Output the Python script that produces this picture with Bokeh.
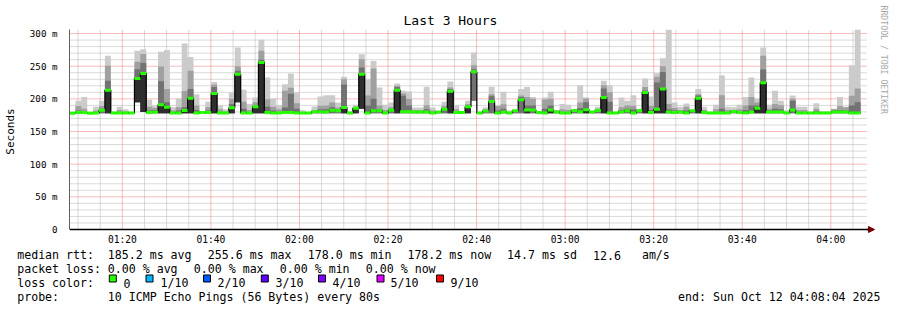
from datetime import datetime

from bokeh.plotting import figure
from bokeh.layouts import column
from bokeh.models import (Range1d, FixedTicker, DatetimeTickFormatter, Title, ColumnDataSource,
                          Arrow, NormalHead)
from bokeh.core.properties import value
from bokeh.embed import file_html
from bokeh.resources import INLINE

# ---------------- data ----------------
START = datetime(2025, 10, 12, 1, 8, 4)
END = datetime(2025, 10, 12, 4, 8, 4)
STEP_S = 80  # one sample every 80 s

# median rtt (ms) per sample
med = [178.1, 179, 179, 178.0, 178.5, 182.7, 213.3, 178.2, 178.5, 178.2,
       178.5, 231.2, 238.8, 179, 180, 190.9, 187.3, 178.2, 178.5, 182.2,
       201, 178.5, 179, 179, 208.2, 178.5, 178.5, 186.3, 237.8, 178.5,
       178.5, 187.8, 255.6, 179, 178.5, 178.5, 179, 179, 178.5, 178.5,
       178.2, 180.2, 180.2, 180, 182.7, 181.7, 186.8, 178.5, 185.8, 237.8,
       178.5, 181.7, 181.7, 178.2, 182.7, 213.3, 180.2, 180.2, 180, 180,
       180, 178.2, 180, 184.2, 211.8, 179, 179, 187.8, 241.4, 178.2,
       181.5, 196, 178.2, 180, 178.5, 181.7, 198.5, 183, 183, 179,
       178.2, 183, 180, 178.2, 178.2, 182, 180.2, 183.2, 180, 182,
       202, 178.5, 178.2, 180, 181.7, 178.2, 181.7, 209.8, 179, 184.2,
       215, 180, 179, 180, 178.2, 181.7, 201, 179, 178.2, 178.2,
       178.2, 178.5, 180.7, 179, 178.2, 180, 185.8, 224.5, 180, 180,
       180, 178.5, 183, 178.2, 178.2, 178.2, 178.2, 178.2, 178.2, 180,
       180, 180, 178.2, 178.2]

# lowest ping of each sample (ms)
ping_min = [178, 178, 178, 178, 178, 178, 178, 178, 178, 178,
            178, 195, 180, 178, 178, 178, 178, 178, 178, 178,
            178, 178, 178, 178, 178, 178, 178, 178, 195, 178,
            178, 178, 178, 178, 178, 178, 178, 178, 178, 178,
            178, 178, 178, 178, 178, 178, 178, 178, 178, 185,
            178, 178, 178, 178, 178, 178, 178, 178, 178, 178,
            178, 178, 178, 178, 178, 178, 178, 178, 197, 178,
            178, 178, 178, 178, 178, 178, 178, 178, 178, 178,
            178, 178, 178, 178, 178, 178, 178, 178, 178, 178,
            178, 178, 178, 178, 178, 178, 178, 178, 178, 178,
            178, 178, 178, 178, 178, 178, 178, 178, 178, 178,
            178, 178, 178, 178, 178, 178, 178, 178, 178, 178,
            178, 178, 178, 178, 178, 178, 178, 178, 178, 178,
            178, 178, 178, 178]

# highest ping of each sample (ms)
ping_max = [180, 197, 203, 179.5, 188, 197, 266, 180, 188, 184,
            180, 273.5, 276, 198.5, 189.4, 272, 275, 187, 200.6, 284.8,
            264, 207, 181, 195.5, 226, 190, 184, 209.8, 278.6, 213.8,
            192, 202, 290.4, 232.7, 200.6, 190.4, 222.5, 239, 209.8, 182.7,
            180, 188.3, 203.6, 205.7, 205.7, 194.5, 234, 181, 190.9, 268.4,
            230, 258, 217.4, 190.9, 194.5, 223.5, 212.3, 211.3, 186.8, 186.8,
            218.4, 186.8, 181, 195.5, 226.6, 190.4, 181, 197, 271, 179,
            187, 218.4, 190, 210.8, 182, 183, 215, 218, 203, 181,
            202, 211, 183, 192, 191, 183, 221, 202, 181, 188,
            227.6, 221, 180, 202, 197, 205.7, 185, 231, 203.6, 239.4,
            262, 306.2, 194.5, 188, 193, 183, 215, 188, 179, 191,
            236, 188, 187, 191, 203, 232.7, 200.6, 278.6, 191, 212.3,
            197, 182.7, 205, 188, 188, 180, 193.4, 181, 181, 185,
            203, 188, 251.6, 306.2]

# upper edge of the second smoke band (ms)
ping_p90 = [179, 189, 185, 179, 182, 189, 250.6, 179, 183, 181,
            179, 256.7, 268.5, 188, 186, 249.6, 215, 182, 187, 212,
            243, 190, 180, 187, 222, 184, 181, 200, 250, 195.5,
            183, 195, 273.5, 199.5, 188, 184, 212.3, 217, 193.4, 180,
            179, 183, 189.4, 190, 194.5, 186.8, 230, 180, 188, 260.8,
            205, 246.5, 190, 183, 187, 220, 208.2, 200, 183, 183,
            190.4, 182, 180.5, 189.4, 217.4, 184, 180, 192, 251.6, 178.8,
            184, 207, 189, 191.9, 180, 182.5, 205, 203, 200, 180,
            199, 200, 182, 184, 183, 182.5, 194.5, 200.6, 180.5, 185,
            221, 210, 179, 187, 190, 189.4, 183, 218, 189.4, 234,
            250, 192, 186, 183, 188, 182.5, 207, 183, 178.8, 184,
            205.7, 183, 183, 184, 190, 203, 194.5, 266, 185, 192,
            190.4, 180, 200, 183, 183, 179, 185, 180, 180, 184,
            189, 187, 204.7, 215.9]

# upper edge of the third smoke band (ms)
ping_p75 = [178.5, 182, 180, 178.5, 180, 185, 227.6, 178.5, 180, 179,
            179, 245.5, 255, 182, 183, 227, 195, 180, 182, 187,
            215, 183, 179.5, 182, 218, 180, 179.5, 192, 243, 185,
            180, 190, 260, 188, 182, 180, 186.8, 208, 185, 179,
            178.5, 181, 184, 184, 187, 183, 222, 179, 186, 248,
            190, 200, 184, 180, 184, 218, 204.7, 190, 181, 181,
            184, 180, 180, 186, 215, 181, 179.5, 189, 245.5, 178.5,
            182, 204, 182, 185, 179, 182, 203, 190, 190, 179.5,
            185, 190, 181, 180, 180, 182, 186, 195, 180, 183,
            216, 195.5, 178.5, 183, 185, 184, 182, 213, 183, 225,
            241, 184, 182, 181, 182, 182, 205, 181, 178.5, 180,
            185, 180, 181, 181, 183, 190, 190, 245, 182, 185,
            184, 179, 197, 180, 180, 178.5, 181, 179, 179, 182,
            183, 182, 190, 195]

# samples whose darkest smoke band reaches up to the median
dark_core = [0, 0, 0, 0, 0, 0, 1, 0, 0, 0,
             0, 1, 1, 0, 0, 1, 1, 0, 0, 1,
             1, 0, 0, 0, 1, 0, 0, 1, 1, 0,
             0, 1, 1, 0, 0, 0, 0, 0, 0, 0,
             0, 0, 0, 0, 0, 0, 1, 0, 1, 1,
             0, 0, 0, 0, 0, 1, 0, 0, 0, 0,
             0, 0, 0, 0, 1, 0, 0, 1, 0, 0,
             0, 0, 0, 0, 0, 0, 0, 1, 0, 0,
             0, 1, 0, 0, 0, 0, 0, 1, 0, 0,
             1, 0, 0, 0, 0, 0, 0, 1, 0, 1,
             1, 0, 0, 0, 0, 0, 1, 0, 0, 0,
             0, 0, 0, 0, 0, 0, 1, 1, 0, 0,
             0, 0, 0, 0, 0, 0, 0, 0, 0, 0,
             0, 0, 0, 0]

y_ticks = [0, 50, 100, 150, 200, 250, 300]
y_tick_labels = ["0", "50 m", "100 m", "150 m", "200 m", "250 m", "300 m"]
Y_MAX = 306.2

# legend rows: (text, x position in px)
row_stats = [("median rtt:", 16.7), ("185.2 ms avg", 107.3), ("255.6 ms max", 207.3),
             ("178.0 ms min", 307.3), ("178.2 ms now", 406.9), ("14.7 ms sd", 506.6),
             ("12.6", 592.5), ("am/s", 641.4)]
row_loss = [("packet loss:", 16.7), ("0.00 % avg", 107.3), ("0.00 % max", 193.3),
            ("0.00 % min", 279.3), ("0.00 % now", 365.3)]
loss_names = ["0", "1/10", "2/10", "3/10", "4/10", "5/10", "9/10"]
loss_colors = ["#26ff00", "#00b8ff", "#0059ff", "#5e00ff", "#7e00ff", "#dd00ff", "#ff0000"]
loss_box_x = [112.3, 149, 206.5, 264.3, 321.5, 380, 439.5]
loss_txt_x = [123, 160, 217, 275, 332, 390, 450]
row_probe = [("probe:", 16.7), ("10 ICMP Echo Pings (56 Bytes) every 80s", 107.3)]
end_text = "end: Sun Oct 12 04:08:04 2025"

# ---------------- geometry ----------------
EPOCH = datetime(1970, 1, 1)


def to_ms(dt):
    return (dt - EPOCH).total_seconds() * 1000.0


t0, t1 = to_ms(START), to_ms(END)
n = len(med)
left = [t0 + i * STEP_S * 1000.0 for i in range(n)]
right = [x + STEP_S * 1000.0 for x in left]
xs = left + [right[-1]]


def ext(a):
    return list(a) + [a[-1]]


core_top = [m if d else lo for m, d, lo in zip(med, dark_core, ping_min)]

W, H = 897, 310
FL, FT = 67, 29
PLOT_W, PLOT_H = 799, 200          # pixel size of the time/value area
XPX = (t1 - t0) / PLOT_W
YPX = Y_MAX / PLOT_H
EXT_R, EXT_B = 10, 4               # frame extension for the axis arrow
FW, FH = PLOT_W + EXT_R, PLOT_H + EXT_B
MAIN_H = 249
FONT = "DejaVu Sans Mono"

p = figure(width=W, height=MAIN_H,
           min_border_left=FL, min_border_right=W - FL - FW,
           min_border_top=FT, min_border_bottom=MAIN_H - FT - FH,
           x_range=Range1d(t0, t1 + EXT_R * XPX), y_range=Range1d(-EXT_B * YPX, Y_MAX),
           x_axis_type="datetime", output_backend="svg", toolbar_location=None,
           title="Last 3 Hours")
p.background_fill_color = "white"
p.border_fill_color = "white"
p.outline_line_color = None
p.grid.visible = False
try:
    p.frame_align = False
except Exception:
    pass

# title
p.title.text_font = FONT
p.title.text_font_size = "13px"
p.title.text_font_style = "normal"
p.title.text_color = "#000000"
p.title.align = "left"
p.title.offset = 334
p.title.standoff = 4
p.title.vertical_align = "bottom"

# grid (dotted), minor then major
xmaj = [to_ms(datetime(2025, 10, 12, 1, 20)) + k * 20 * 60000 for k in range(9)]
xmin = [to_ms(datetime(2025, 10, 12, 1, 10)) + k * 5 * 60000 for k in range(36)]
ymaj = [v for v in y_ticks if v > 0]
ymin = [v for v in range(10, 310, 10) if v % 50 != 0]
xmin_only = [x for x in xmin if x not in xmaj]
p.segment(x0=xmin_only, x1=xmin_only, y0=[0] * len(xmin_only), y1=[Y_MAX] * len(xmin_only),
          line_color="#b4b4b4", line_width=1, line_dash="1 1")
p.segment(x0=[t0] * len(ymin), x1=[t1] * len(ymin), y0=ymin, y1=ymin,
          line_color="#b4b4b4", line_width=1, line_dash="1 1")
p.segment(x0=xmaj, x1=xmaj, y0=[0] * len(xmaj), y1=[Y_MAX] * len(xmaj),
          line_color="#f07878", line_width=1, line_dash="1 1")
p.segment(x0=[t0] * len(ymaj), x1=[t1] * len(ymaj), y0=ymaj, y1=ymaj,
          line_color="#f07878", line_width=1, line_dash="1 1")

# smoke bands
band_specs = [(ping_max, "#cbcbcb"), (ping_p90, "#a0a0a0"), (ping_p75, "#727272"), (core_top, "#2e2e2e")]
for top, col in band_specs:
    p.varea_step(x=xs, y1=ext(ping_min), y2=ext(top), step_mode="after",
                 fill_color=col, fill_alpha=1.0)

# median step line (black) and loss-coloured median marks
p.step(x=xs, y=ext(med), mode="after", line_color="#000000", line_width=1.2)
seg = ColumnDataSource(dict(x0=left, x1=right, y=med))
p.segment(x0="x0", x1="x1", y0="y", y1="y", source=seg,
          line_color=loss_colors[0], line_width=3)

# time axis line at value 0 with its arrow
p.segment(x0=[t0], x1=[t1 + 3 * XPX], y0=[0], y1=[0], line_color="#000000", line_width=1.5)
p.add_layout(Arrow(end=NormalHead(size=6, fill_color="#7a0000", line_color="#7a0000"),
                   x_start=t1, y_start=0, x_end=t1 + 8 * XPX, y_end=0,
                   line_color="#000000", line_width=1.5))

# axes
p.xaxis.ticker = FixedTicker(ticks=xmaj, minor_ticks=xmin)
p.xaxis.formatter = DatetimeTickFormatter(minutes="%H:%M", hourmin="%H:%M", hours="%H:%M",
                                          minsec="%H:%M", seconds="%H:%M")
p.xaxis.axis_line_color = None
p.yaxis.ticker = FixedTicker(ticks=y_ticks, minor_ticks=ymin)
p.yaxis.major_label_overrides = {t: s for t, s in zip(y_ticks, y_tick_labels)}
p.yaxis.bounds = (0, Y_MAX)
for ax in (p.xaxis[0], p.yaxis[0]):
    ax.major_tick_in = 0
    ax.major_tick_out = 0
    ax.minor_tick_in = 0
    ax.minor_tick_out = 0
    ax.major_label_text_font = FONT
    ax.major_label_text_color = "#000000"
p.xaxis.major_label_text_font_size = "9.6px"
p.xaxis.major_label_standoff = 0
p.yaxis.axis_line_color = "#606060"
p.yaxis.axis_line_width = 1
p.yaxis.major_label_text_font_size = "9.2px"
p.yaxis.major_label_standoff = 12
p.yaxis.axis_label = "Seconds"
p.yaxis.axis_label_text_font = FONT
p.yaxis.axis_label_text_font_size = "11px"
p.yaxis.axis_label_text_font_style = "normal"
p.yaxis.axis_label_text_color = "#000000"
p.yaxis.axis_label_standoff = 10

# watermark on the right side
p.add_layout(Title(text="RRDTOOL / TOBI OETIKER", align="left", offset=-24,
                   vertical_align="middle", standoff=2, text_font=FONT,
                   text_font_size="8.2px", text_font_style="normal",
                   text_color="#a8a8a8"), "right")

# ---------------- legend strip below the graph ----------------
LH = H - MAIN_H
q = figure(width=W, height=LH, min_border=0, min_border_left=0, min_border_right=0,
           min_border_top=0, min_border_bottom=0,
           x_range=Range1d(0, W), y_range=Range1d(LH, 0),
           output_backend="svg", toolbar_location=None,
           x_axis_location=None, y_axis_location=None)
q.background_fill_color = "white"
q.border_fill_color = "white"
q.outline_line_color = None
q.grid.visible = False
try:
    q.frame_align = False
except Exception:
    pass

base = [254.5 - MAIN_H, 268.5 - MAIN_H, 282.5 - MAIN_H, 296.5 - MAIN_H]
TXT = dict(text_font=value(FONT), text_font_size=value("11.6px"),
           text_baseline="alphabetic", text_color="#000000")
rows = [row_stats, row_loss, [("loss color:", 16.7)], row_probe]
tx, ty, tt = [], [], []
for r, items in enumerate(rows):
    for s, x in items:
        tx.append(x)
        ty.append(base[r])
        tt.append(s)
tx += loss_txt_x
ty += [base[2]] * len(loss_txt_x)
tt += loss_names
q.text(x=tx, y=ty, text=tt, text_align="left", **TXT)
q.text(x=[880], y=[base[3]], text=[end_text], text_align="right", **TXT)
q.rect(x=loss_box_x, y=[base[2] - 4.5] * len(loss_box_x), width=7, height=7,
       fill_color=loss_colors, line_color="#000000", line_width=1)

layout = column(p, q, spacing=0)
open("out.html", "w").write(file_html(layout, INLINE))
